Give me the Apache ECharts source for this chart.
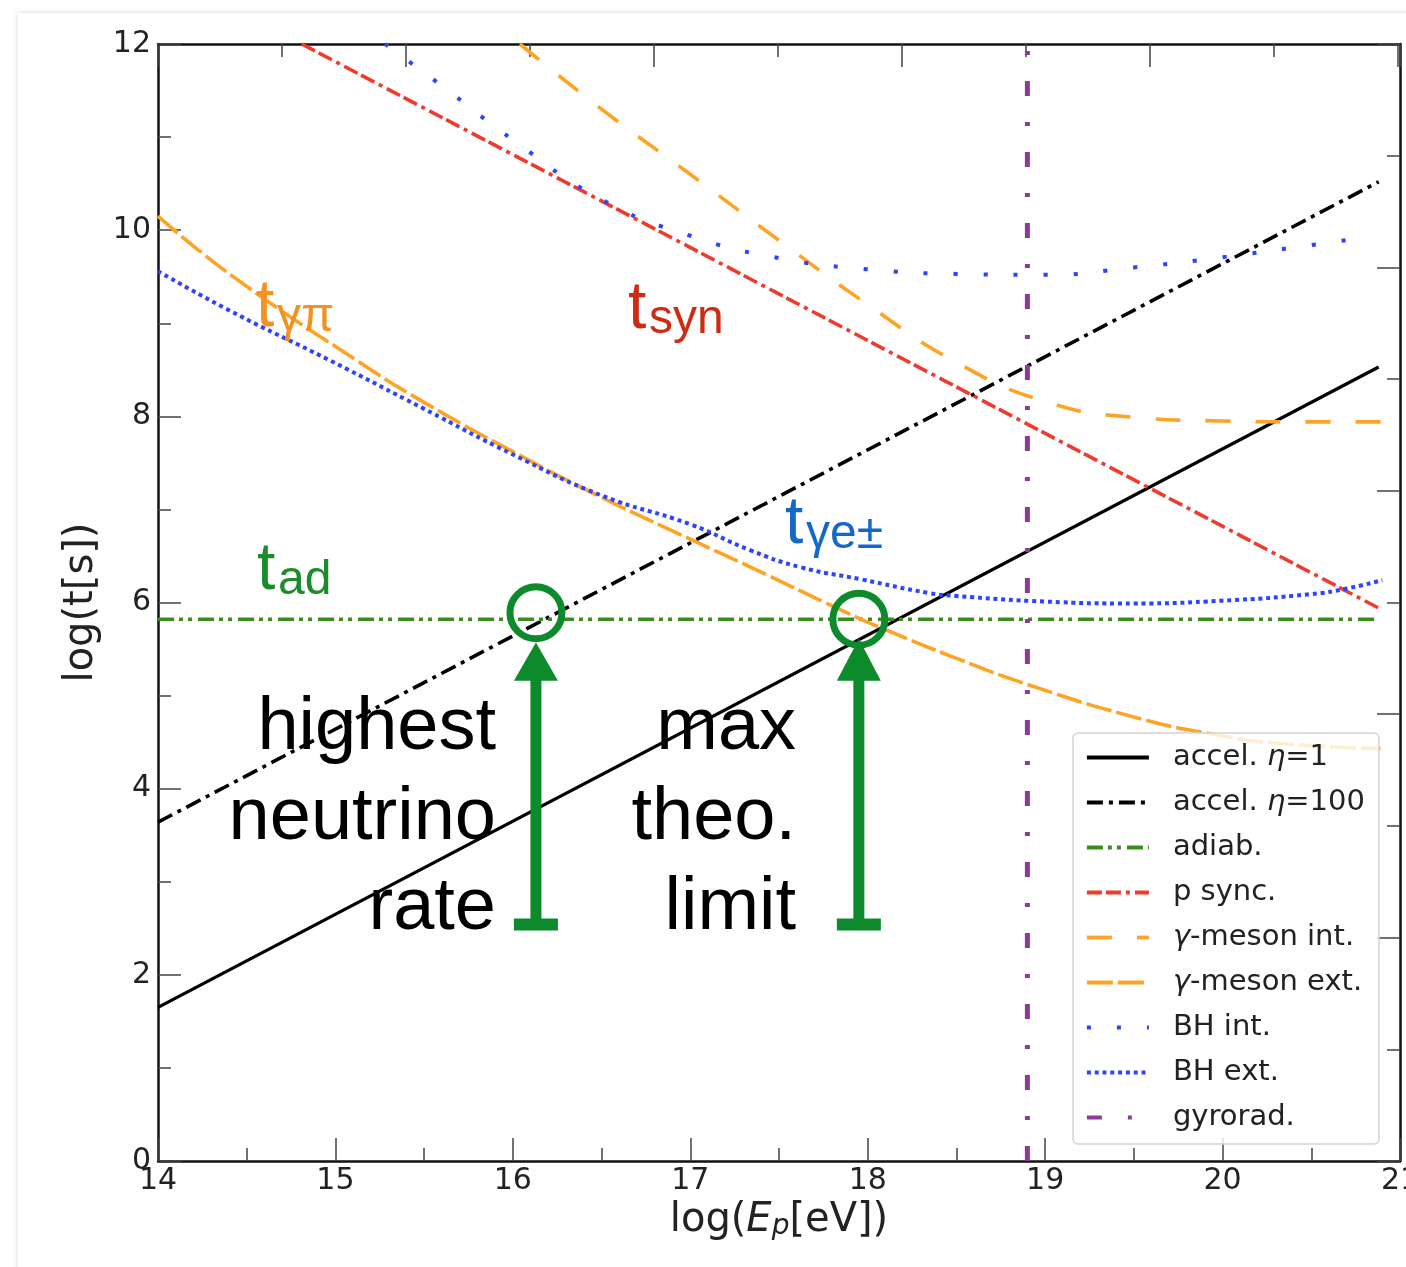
<!DOCTYPE html>
<html>
<head>
<meta charset="utf-8">
<script src="https://cdn.jsdelivr.net/npm/echarts@6/dist/echarts.min.js"></script>
<style>
  html, body { margin: 0; padding: 0; background: #fff; overflow: hidden; }
  #card { position: absolute; left: 18px; top: 13px; width: 1500px; height: 1400px;
          background: #fff; box-shadow: 0 0 5px rgba(0, 0, 0, 0.18); }
  #chart { position: absolute; left: 0; top: 0; width: 1406px; height: 1267px; }
</style>
</head>
<body>
<div id="card"></div>
<div id="chart"></div>
<script>
// Timescales vs. proton energy: x = log10(E_p / eV), y = log10(t / s)

const accelEta1X = [14, 20.88];
const accelEta1Y = [1.65, 8.53];

const accelEta100X = [14, 20.88];
const accelEta100Y = [3.64, 10.52];

const adiabX = [14, 20.88];
const adiabY = [5.82, 5.82];

const pSyncX = [14.81, 20.88];
const pSyncY = [12.0, 5.94];

const mesonIntX = [16.04, 16.5, 17.0, 17.5, 18.0, 18.5, 19.0, 19.5, 20.0, 20.5, 20.9];
const mesonIntY = [12.0, 11.30, 10.60, 9.89, 9.20, 8.58, 8.16, 7.99, 7.95, 7.94, 7.94];

const mesonExtX = [14.0, 14.41, 15.12, 15.5, 16.0, 16.5, 17.0, 17.34, 17.86, 18.11, 18.5, 18.9, 19.52, 19.93, 20.3, 20.89];
const mesonExtY = [10.15, 9.52, 8.60, 8.15, 7.62, 7.13, 6.68, 6.38, 5.91, 5.70, 5.40, 5.12, 4.76, 4.59, 4.49, 4.43];

const bhIntX = [15.28, 15.6, 16.0, 16.5, 17.0, 17.5, 18.0, 18.5, 19.0, 19.5, 20.0, 20.5, 20.8];
const bhIntY = [12.0, 11.55, 10.97, 10.33, 9.94, 9.70, 9.58, 9.53, 9.52, 9.60, 9.71, 9.84, 9.92];

const bhExtX = [14.0, 14.41, 14.97, 15.5, 16.0, 16.5, 17.0, 17.34, 17.62, 17.96, 18.35, 18.5, 19.0, 19.5, 20.0, 20.5, 20.7, 20.9];
const bhExtY = [9.56, 9.13, 8.60, 8.08, 7.59, 7.15, 6.84, 6.56, 6.38, 6.25, 6.10, 6.07, 6.01, 5.99, 6.02, 6.09, 6.15, 6.24];

const gyroradX = [18.9, 18.9];
const gyroradY = [0, 12];

const seriesNames = ['accel. η=1', 'accel. η=100', 'adiab.', 'p sync.', 'γ-meson int.',
                     'γ-meson ext.', 'BH int.', 'BH ext.', 'gyrorad.'];

const xTicks = [14, 15, 16, 17, 18, 19, 20, 21];
const yTicks = [0, 2, 4, 6, 8, 10, 12];

// Curve tags ("t" with subscript), anchored at the left edge / baseline of the "t"
const curveTags = [
  { main: 't', sub: 'γπ', x: 14.552, y: 8.919, color: '#f39220' },
  { main: 't', sub: 'syn', x: 16.649, y: 8.898, color: '#cc2b14' },
  { main: 't', sub: 'γe±', x: 17.534, y: 6.590, color: '#1468c8' },
  { main: 't', sub: 'ad', x: 14.558, y: 6.096, color: '#1b8b2b' }
];

// Multi-line notes, right-aligned, anchored at each line's baseline
const notes = [
  { lines: ['highest', 'neutrino', 'rate'], x: 15.905, y: [4.368, 3.402, 2.436] },
  { lines: ['max', 'theo.', 'limit'], x: 17.596, y: [4.368, 3.402, 2.436] }
];

// Circled crossings with arrows pointing up at them
const markers = [
  { x: 16.13, circleY: 5.89, tipY: 5.57, baseY: 5.16, barY: 2.54 },
  { x: 17.95, circleY: 5.82, tipY: 5.61, baseY: 5.16, barY: 2.54 }
];

const GREEN_MARK = '#0d8a2c';
const TICK_FONT = 'DejaVu Sans';

function pairs(xs, ys) { return xs.map((x, i) => [x, ys[i]]); }

function line(name, xs, ys, color, width, dash, smooth) {
  return {
    name: name, type: 'line', data: pairs(xs, ys),
    symbol: 'none', showSymbol: false,
    smooth: smooth ? 0.5 : false,
    clip: true, silent: true, animation: false,
    lineStyle: { color: color, width: width, type: dash, cap: 'butt' },
    itemStyle: { color: color }
  };
}

const series = [
  line(seriesNames[0], accelEta1X, accelEta1Y, '#000000', 3.2, 'solid', false),
  line(seriesNames[1], accelEta100X, accelEta100Y, '#000000', 3.6, [16, 6, 4, 6], false),
  line(seriesNames[2], adiabX, adiabY, '#3d8c20', 3.6, [16, 5, 4, 5, 4, 6], false),
  line(seriesNames[3], pSyncX, pSyncY, '#ef3b2e', 3.6, [15, 4, 15, 5, 4, 5], false),
  line(seriesNames[4], mesonIntX, mesonIntY, '#ffa324', 3.6, [25, 25], true),
  line(seriesNames[5], mesonExtX, mesonExtY, '#ffa324', 3.6, [26, 5], true),
  line(seriesNames[6], bhIntX, bhIntY, '#2f42ff', 4, [4, 26], true),
  line(seriesNames[7], bhExtX, bhExtY, '#2f42ff', 4, [4, 3.8], true),
  line(seriesNames[8], gyroradX, gyroradY, '#8c3b98', 5, [15, 26, 4, 26], false)
];

const frameLine = { show: true, onZero: false, lineStyle: { color: '#111', width: 2.5 } };
const majorTick = { show: true, inside: true, length: 23, lineStyle: { color: '#444', width: 1.5 } };
const minorTick = { show: true, splitNumber: 2, length: 13, lineStyle: { color: '#444', width: 1.5 } };

const chart = echarts.init(document.getElementById('chart'), null, { renderer: 'canvas' });

chart.setOption({
  animation: false,
  backgroundColor: 'transparent',
  grid: { left: 158, right: 6, top: 44, bottom: 106, containLabel: false, outerBoundsMode: 'none' },
  legend: {
    data: seriesNames,
    orient: 'vertical', left: 1073, top: 733,
    itemWidth: 62, itemHeight: 14, itemGap: 16,
    padding: [10, 14, 12, 12],
    backgroundColor: 'rgba(255,255,255,0.8)',
    borderColor: '#d4d4d4', borderWidth: 1.5, borderRadius: 5,
    selectedMode: false,
    itemStyle: { opacity: 0 },
    lineStyle: { width: 3.8 },
    formatter: n => n.replace(/([ηγ])/g, '{i|$1}'),
    textStyle: {
      fontFamily: TICK_FONT, fontSize: 29, lineHeight: 28, color: '#222', padding: [0, 0, 0, 19],
      rich: { i: { fontFamily: TICK_FONT, fontStyle: 'italic', fontSize: 29, lineHeight: 28, color: '#222' } }
    }
  },
  xAxis: [
    {
      type: 'value', position: 'bottom', min: xTicks[0], max: xTicks[xTicks.length - 1], interval: 1,
      axisLine: frameLine, axisTick: majorTick, minorTick: minorTick,
      splitLine: { show: false }, minorSplitLine: { show: false },
      axisLabel: { fontFamily: TICK_FONT, fontSize: 30, color: '#222', margin: 5 },
      name: 'log({e|E}{s|p}[eV])', nameLocation: 'middle', nameGap: 38,
      nameTextStyle: {
        fontFamily: TICK_FONT, fontSize: 40, lineHeight: 40, color: '#222',
        rich: {
          e: { fontFamily: TICK_FONT, fontStyle: 'italic', fontSize: 40, lineHeight: 40, color: '#222' },
          s: { fontFamily: TICK_FONT, fontStyle: 'italic', fontSize: 28, lineHeight: 18, verticalAlign: 'bottom', color: '#222' }
        }
      }
    },
    {
      type: 'value', position: 'top', min: 14, max: 21, interval: 1.398,
      axisLine: frameLine, axisTick: majorTick, minorTick: minorTick,
      splitLine: { show: false }, minorSplitLine: { show: false },
      axisLabel: { show: false }
    }
  ],
  yAxis: [
    {
      type: 'value', position: 'left', min: yTicks[0], max: yTicks[yTicks.length - 1], interval: 2,
      axisLine: frameLine, axisTick: majorTick, minorTick: minorTick,
      splitLine: { show: false }, minorSplitLine: { show: false },
      axisLabel: { fontFamily: TICK_FONT, fontSize: 30, color: '#222', margin: 7 },
      name: 'log(t[s])', nameLocation: 'middle', nameGap: 41,
      nameTextStyle: { fontFamily: TICK_FONT, fontSize: 40, lineHeight: 40, color: '#222' }
    },
    {
      type: 'value', position: 'right', min: 0, max: 12, interval: 2.4,
      axisLine: frameLine, axisTick: majorTick, minorTick: minorTick,
      splitLine: { show: false }, minorSplitLine: { show: false },
      axisLabel: { show: false }
    }
  ],
  series: series
});

// Overlay: curve tags, notes and arrow markers placed through the axis scales
function toPx(x, y) { return chart.convertToPixel({ xAxisIndex: 0, yAxisIndex: 0 }, [x, y]); }

const ANNO_FONT = 'Liberation Sans';
const MIDDLE_SHIFT = 0.3465; // em distance from glyph middle to baseline
const graphics = [];

curveTags.forEach(tag => {
  const p = toPx(tag.x, tag.y);
  const mainSize = 66, subSize = 48;
  graphics.push({
    type: 'text', silent: true, z: 100,
    style: { text: tag.main, x: p[0], y: p[1] - MIDDLE_SHIFT * mainSize,
             fill: tag.color, font: mainSize + 'px "' + ANNO_FONT + '"',
             align: 'left', verticalAlign: 'middle' }
  });
  graphics.push({
    type: 'text', silent: true, z: 100,
    style: { text: tag.sub, x: p[0] + 21, y: p[1] + 4 - MIDDLE_SHIFT * subSize,
             fill: tag.color, font: subSize + 'px "' + ANNO_FONT + '"',
             align: 'left', verticalAlign: 'middle' }
  });
});

notes.forEach(note => {
  const size = 74;
  note.lines.forEach((txt, i) => {
    const p = toPx(note.x, note.y[i]);
    graphics.push({
      type: 'text', silent: true, z: 100,
      style: { text: txt, x: p[0], y: p[1] - MIDDLE_SHIFT * size,
               fill: '#000', font: size + 'px "' + ANNO_FONT + '"',
               align: 'right', verticalAlign: 'middle' }
    });
  });
});

markers.forEach(m => {
  const c = toPx(m.x, m.circleY);
  const tip = toPx(m.x, m.tipY);
  const base = toPx(m.x, m.baseY);
  const bar = toPx(m.x, m.barY);
  const cx = c[0];
  graphics.push({
    type: 'circle', silent: true, z: 100,
    shape: { cx: cx, cy: c[1], r: 26 },
    style: { fill: 'none', stroke: GREEN_MARK, lineWidth: 7 }
  });
  graphics.push({
    type: 'polygon', silent: true, z: 100,
    shape: { points: [[cx, tip[1]], [cx - 22, base[1]], [cx + 22, base[1]]] },
    style: { fill: GREEN_MARK }
  });
  graphics.push({
    type: 'rect', silent: true, z: 100,
    shape: { x: cx - 5.5, y: base[1] - 1, width: 11, height: bar[1] - base[1] + 1 },
    style: { fill: GREEN_MARK }
  });
  graphics.push({
    type: 'rect', silent: true, z: 100,
    shape: { x: cx - 22, y: bar[1] - 6, width: 44, height: 12 },
    style: { fill: GREEN_MARK }
  });
});

chart.setOption({ graphic: { elements: graphics } });
</script>
</body>
</html>
